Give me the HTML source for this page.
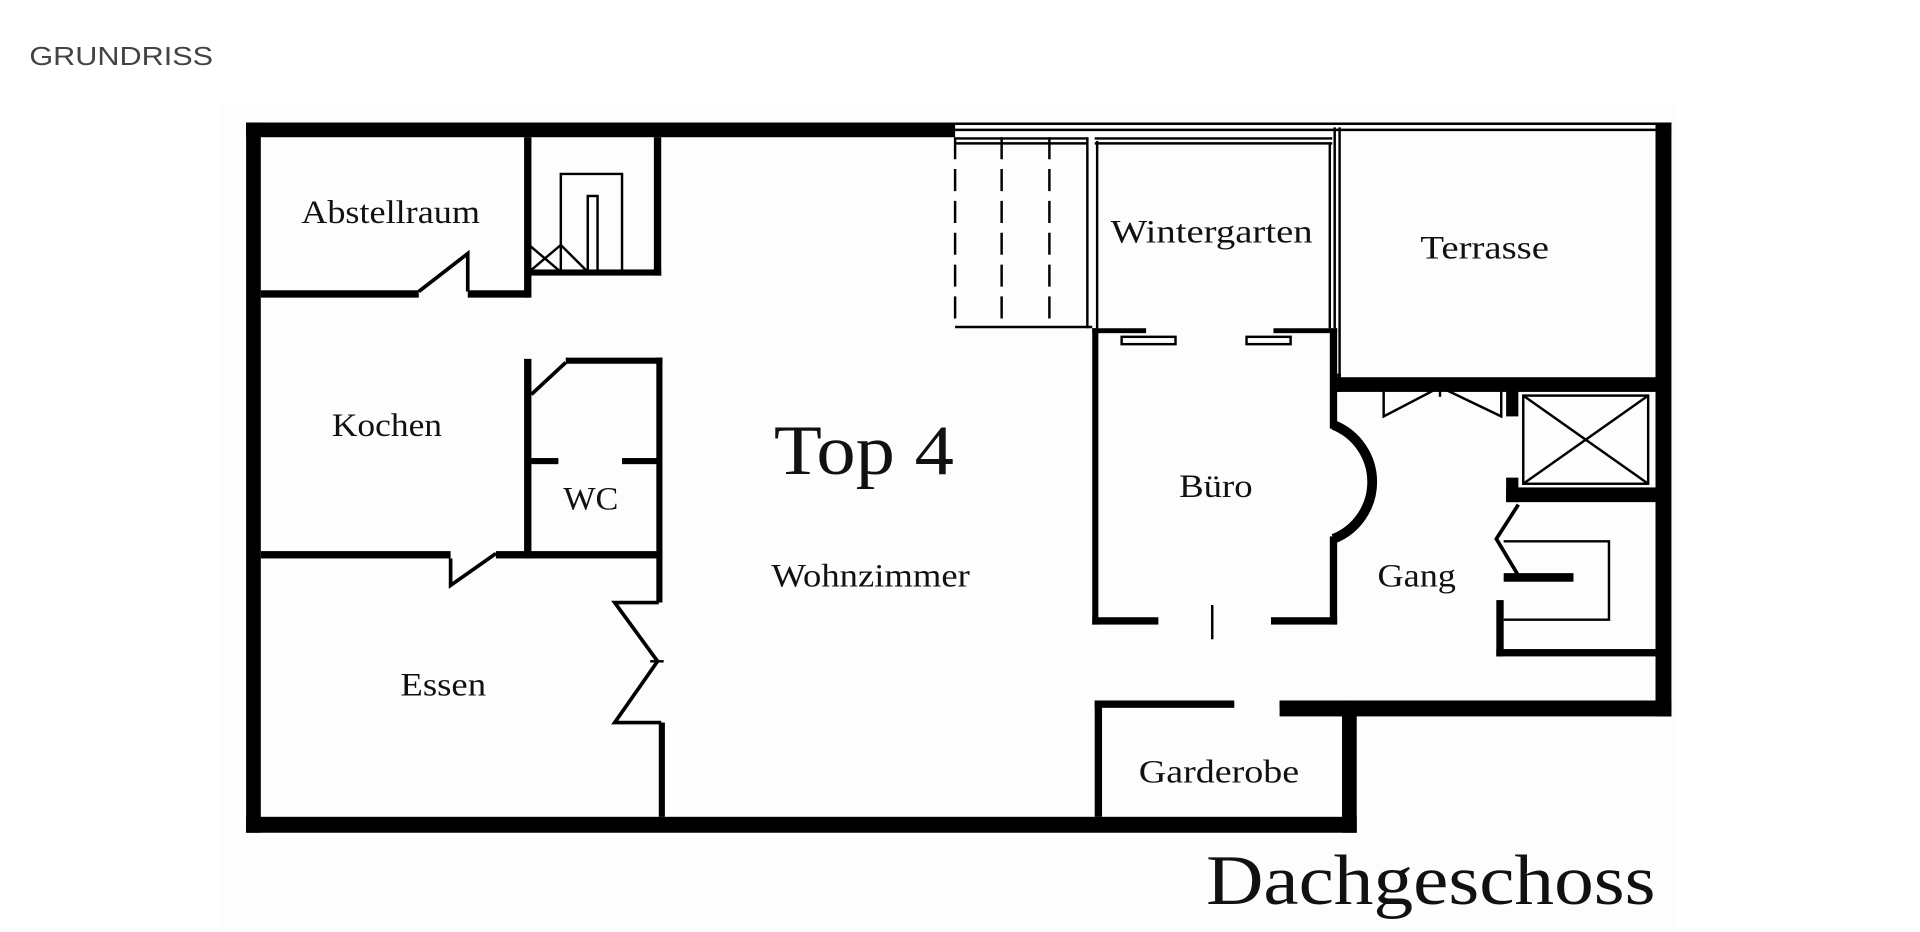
<!DOCTYPE html>
<html><head><meta charset="utf-8"><style>
html,body{margin:0;padding:0;background:#fff;width:1920px;height:932px;overflow:hidden}
svg{display:block}
</style></head><body>
<svg width="1920" height="932" viewBox="0 0 1568 761" xmlns="http://www.w3.org/2000/svg">
<rect x="180" y="85" width="1190" height="676" fill="#fdfdfd"/>
<text x="24" y="53" font-family="Liberation Sans, sans-serif" font-size="21" fill="#444" textLength="150" lengthAdjust="spacingAndGlyphs">GRUNDRISS</text>
<g fill="#000">
<rect x="201" y="100" width="579" height="12"/>
<rect x="201" y="100" width="12" height="580"/>
<rect x="201" y="667" width="907" height="13"/>
<rect x="1352" y="100" width="13" height="485"/>
<rect x="1045" y="572" width="320" height="13"/>
<rect x="1096" y="572" width="12" height="108"/>
<rect x="213" y="237" width="129" height="6"/>
<rect x="382" y="237" width="50" height="6"/>
<rect x="428" y="112" width="6" height="131"/>
<rect x="534" y="112" width="6" height="113"/>
<rect x="432" y="220" width="108" height="5"/>
<rect x="428" y="293" width="6" height="163"/>
<rect x="462" y="292" width="79" height="5"/>
<rect x="536" y="292" width="5" height="164"/>
<rect x="434" y="374" width="22" height="5"/>
<rect x="508" y="374" width="32" height="5"/>
<rect x="213" y="450" width="155" height="6"/>
<rect x="405" y="450" width="136" height="6"/>
<rect x="536" y="456" width="5" height="36"/>
<rect x="538" y="590" width="5" height="77"/>
<rect x="892" y="268" width="5" height="242"/>
<rect x="892" y="268" width="44" height="4"/>
<rect x="1040" y="268" width="52" height="4"/>
<rect x="1086" y="268" width="6" height="82"/>
<rect x="1086" y="438" width="6" height="72"/>
<rect x="892" y="504" width="54" height="6"/>
<rect x="1038" y="504" width="54" height="6"/>
<rect x="989" y="494" width="2" height="28"/>
<rect x="1092" y="308" width="260" height="12"/>
<rect x="1092" y="305" width="3" height="15"/>
<rect x="1230" y="318" width="10" height="22"/>
<rect x="1230" y="390" width="10" height="20"/>
<rect x="1230" y="398" width="122" height="12"/>
<rect x="1222" y="530" width="130" height="6"/>
<rect x="1222" y="490" width="6" height="46"/>
<rect x="1228" y="468" width="57" height="7"/>
<rect x="894" y="572" width="114" height="6"/>
<rect x="1045" y="572" width="63" height="6"/>
<rect x="894" y="572" width="6" height="95"/>
</g>
<g fill="none" stroke="#000" stroke-width="2">
<line x1="780" y1="101" x2="1365" y2="101"/>
<line x1="780" y1="106" x2="1365" y2="106"/>
<polyline points="342,238 382,207 382,238" stroke-width="3"/>
<polyline points="434,322 462,296" stroke-width="3"/>
<polyline points="368,456 368,478 405,452" stroke-width="3"/>
<polyline points="538,492 502,492 537,540 502,590 540,590" stroke-width="3"/>
<line x1="531" y1="540" x2="542" y2="540"/>
<polyline points="432,222 458,200 480,222 480,160 488,160 488,222"/>
<polyline points="458,222 458,142 508,142 508,222"/>
<line x1="432" y1="200" x2="458" y2="222"/>
<line x1="780" y1="112" x2="780" y2="268" stroke-dasharray="18,8"/>
<line x1="818" y1="112" x2="818" y2="268" stroke-dasharray="18,8"/>
<line x1="857" y1="112" x2="857" y2="268" stroke-dasharray="18,8"/>
<line x1="888" y1="112" x2="888" y2="268"/>
<line x1="780" y1="267" x2="892" y2="267"/>
<line x1="780" y1="113" x2="888" y2="113"/>
<line x1="780" y1="117" x2="888" y2="117"/>
<line x1="894" y1="113" x2="1088" y2="113"/>
<line x1="894" y1="117" x2="1088" y2="117"/>
<line x1="896" y1="115" x2="896" y2="268"/>
<line x1="1086" y1="117" x2="1086" y2="268"/>
<line x1="1090" y1="104" x2="1090" y2="268"/>
<line x1="1094" y1="104" x2="1094" y2="310"/>
<rect x="916" y="275" width="44" height="6"/>
<rect x="1018" y="275" width="36" height="6"/>
<polyline points="1130,316 1130,340 1176,316 1226,340 1226,316"/>
<line x1="1176" y1="316" x2="1176" y2="324"/>
<line x1="1130" y1="316" x2="1226" y2="316"/>
<rect x="1244" y="323" width="102" height="72"/>
<line x1="1244" y1="323" x2="1346" y2="395"/>
<line x1="1346" y1="323" x2="1244" y2="395"/>
<polyline points="1240,412 1222,440 1240,470" stroke-width="3"/>
<polyline points="1228,442 1314,442 1314,506 1228,506"/>
</g>
<path d="M1089,347 A50,50 0 0 1 1089,440" fill="none" stroke="#000" stroke-width="8"/>
<g font-family="Liberation Serif, serif" fill="#111" lengthAdjust="spacingAndGlyphs">
<text x="246" y="182" font-size="27" textLength="146" lengthAdjust="spacingAndGlyphs">Abstellraum</text>
<text x="907" y="198" font-size="27" textLength="165" lengthAdjust="spacingAndGlyphs">Wintergarten</text>
<text x="1160" y="211" font-size="27" textLength="105" lengthAdjust="spacingAndGlyphs">Terrasse</text>
<text x="271" y="356" font-size="27" textLength="90" lengthAdjust="spacingAndGlyphs">Kochen</text>
<text x="460" y="416" font-size="27" textLength="45" lengthAdjust="spacingAndGlyphs">WC</text>
<text x="632" y="387" font-size="58" textLength="147" lengthAdjust="spacingAndGlyphs">Top 4</text>
<text x="963" y="406" font-size="27" textLength="60" lengthAdjust="spacingAndGlyphs">Büro</text>
<text x="1125" y="479" font-size="27" textLength="64" lengthAdjust="spacingAndGlyphs">Gang</text>
<text x="630" y="479" font-size="27" textLength="162" lengthAdjust="spacingAndGlyphs">Wohnzimmer</text>
<text x="327" y="568" font-size="27" textLength="70" lengthAdjust="spacingAndGlyphs">Essen</text>
<text x="930" y="639" font-size="27" textLength="131" lengthAdjust="spacingAndGlyphs">Garderobe</text>
<text x="985" y="738" font-size="58" textLength="367" lengthAdjust="spacingAndGlyphs">Dachgeschoss</text>
</g>
</svg>
</body></html>
